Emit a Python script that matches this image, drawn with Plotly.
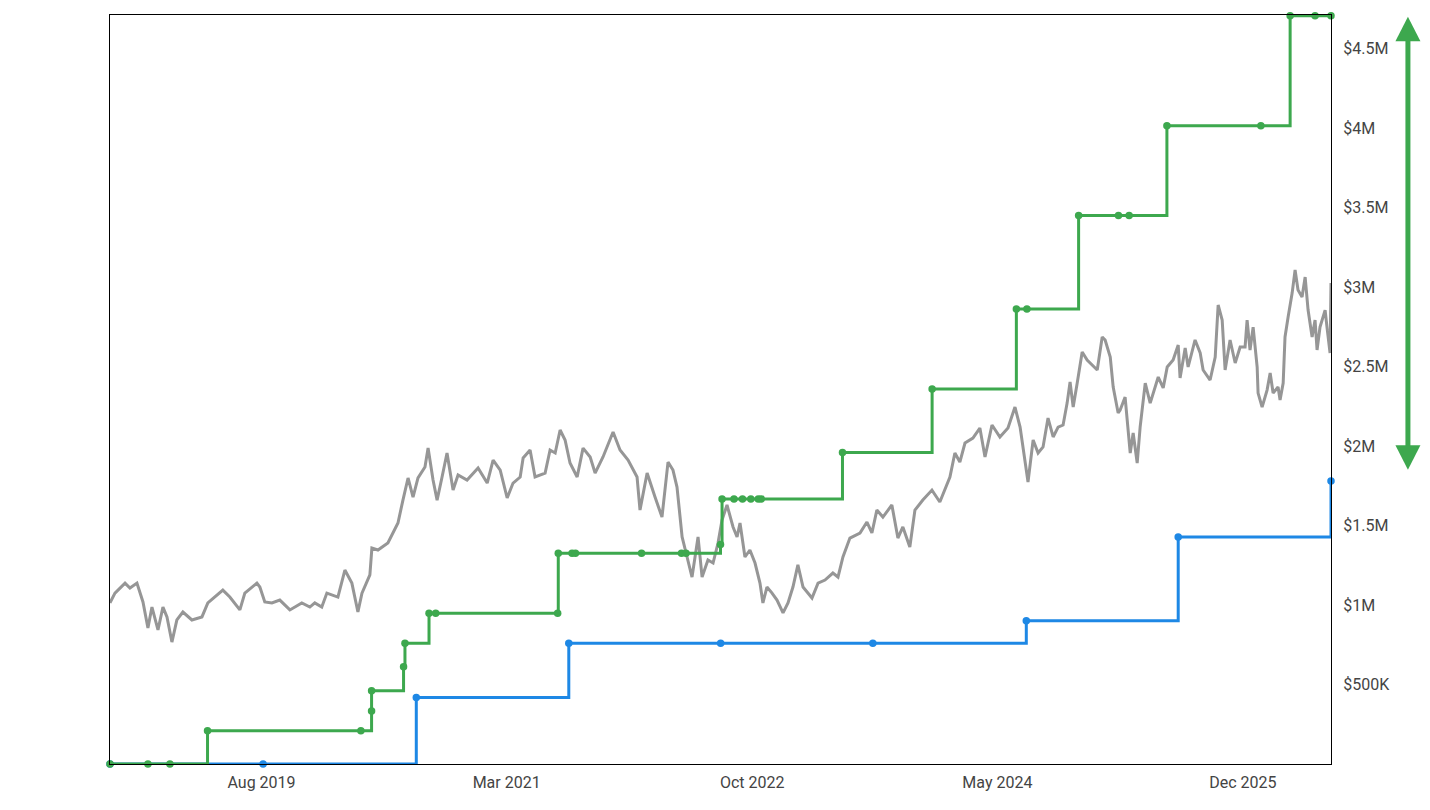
import datetime as dt
import plotly.graph_objects as go

# ---------------- data ----------------
# time as decimal years, values in US$ millions
grey_t = [2018.602, 2018.634, 2018.699, 2018.731, 2018.776, 2018.795, 2018.815, 2018.847, 2018.873, 2018.912,
          2018.944, 2018.970, 2019.002, 2019.034, 2019.073, 2019.131, 2019.196, 2019.234, 2019.331, 2019.376,
          2019.441, 2019.473, 2019.551, 2019.570, 2019.602, 2019.648, 2019.699, 2019.764, 2019.841, 2019.893,
          2019.925, 2019.970, 2020.003, 2020.074, 2020.119, 2020.164, 2020.203, 2020.229, 2020.280, 2020.293,
          2020.332, 2020.396, 2020.461, 2020.493, 2020.526, 2020.558, 2020.590, 2020.635, 2020.655, 2020.687,
          2020.713, 2020.745, 2020.777, 2020.816, 2020.848, 2020.906, 2020.977, 2021.036, 2021.074, 2021.120,
          2021.165, 2021.203, 2021.249, 2021.268, 2021.313, 2021.345, 2021.410, 2021.442, 2021.475, 2021.507,
          2021.539, 2021.571, 2021.617, 2021.655, 2021.701, 2021.733, 2021.784, 2021.849, 2021.894, 2021.946,
          2022.004, 2022.023, 2022.069, 2022.120, 2022.165, 2022.204, 2022.236, 2022.262, 2022.295, 2022.327,
          2022.359, 2022.398, 2022.424, 2022.462, 2022.495, 2022.527, 2022.553, 2022.585, 2022.624, 2022.650,
          2022.669, 2022.701, 2022.733, 2022.766, 2022.798, 2022.817, 2022.843, 2022.876, 2022.908, 2022.947,
          2022.979, 2023.011, 2023.043, 2023.076, 2023.134, 2023.173, 2023.218, 2023.269, 2023.302, 2023.334,
          2023.379, 2023.444, 2023.489, 2023.521, 2023.553, 2023.592, 2023.650, 2023.689, 2023.721, 2023.766,
          2023.799, 2023.850, 2023.909, 2023.960, 2024.025, 2024.057, 2024.089, 2024.122, 2024.173, 2024.218,
          2024.251, 2024.296, 2024.347, 2024.399, 2024.444, 2024.477, 2024.528, 2024.561, 2024.593, 2024.625,
          2024.657, 2024.690, 2024.722, 2024.754, 2024.780, 2024.799, 2024.819, 2024.845, 2024.877, 2024.909,
          2024.941, 2024.974, 2025.006, 2025.025, 2025.058, 2025.077, 2025.109, 2025.122, 2025.154, 2025.187,
          2025.206, 2025.232, 2025.251, 2025.284, 2025.316, 2025.335, 2025.368, 2025.400, 2025.426, 2025.464,
          2025.497, 2025.509, 2025.542, 2025.561, 2025.606, 2025.639, 2025.658, 2025.703, 2025.736, 2025.755,
          2025.781, 2025.800, 2025.832, 2025.865, 2025.897, 2025.929, 2025.942, 2025.961, 2025.981, 2026.007,
          2026.013, 2026.039, 2026.071, 2026.091, 2026.110, 2026.142, 2026.155, 2026.175, 2026.187, 2026.207,
          2026.233, 2026.252, 2026.271, 2026.297, 2026.317, 2026.336, 2026.362, 2026.381, 2026.394, 2026.413,
          2026.446, 2026.458, 2026.478, 2026.484]
grey_v = [1.013, 1.075, 1.138, 1.107, 1.138, 1.075, 1.019, 0.855, 0.987, 0.843,
          0.987, 0.925, 0.767, 0.906, 0.956, 0.906, 0.925, 1.013, 1.094, 1.050,
          0.969, 1.075, 1.138, 1.113, 1.019, 1.013, 1.031, 0.969, 1.013, 0.987,
          1.013, 0.987, 1.075, 1.050, 1.220, 1.138, 0.956, 1.075, 1.189, 1.358,
          1.346, 1.390, 1.516, 1.660, 1.799, 1.679, 1.799, 1.868, 1.987, 1.786,
          1.660, 1.805, 1.956, 1.723, 1.818, 1.786, 1.862, 1.767, 1.912, 1.849,
          1.673, 1.767, 1.805, 1.925, 1.975, 1.805, 1.830, 1.975, 1.956, 2.101,
          2.038, 1.893, 1.805, 1.987, 1.931, 1.830, 1.931, 2.088, 1.975, 1.912,
          1.805, 1.597, 1.830, 1.679, 1.553, 1.899, 1.849, 1.742, 1.428, 1.302,
          1.176, 1.428, 1.176, 1.283, 1.264, 1.390, 1.535, 1.629, 1.491, 1.428,
          1.516, 1.302, 1.346, 1.264, 1.138, 1.013, 1.113, 1.075, 1.031, 0.950,
          1.013, 1.113, 1.252, 1.113, 1.044, 1.138, 1.157, 1.201, 1.176, 1.302,
          1.421, 1.453, 1.522, 1.453, 1.597, 1.553, 1.629, 1.421, 1.491, 1.365,
          1.597, 1.660, 1.723, 1.648, 1.805, 1.956, 1.899, 2.019, 2.050, 2.113,
          1.931, 2.132, 2.057, 2.113, 2.245, 2.119, 1.774, 2.038, 1.956, 1.994,
          2.176, 2.057, 2.119, 2.132, 2.270, 2.403, 2.245, 2.396, 2.591, 2.541,
          2.509, 2.478, 2.686, 2.667, 2.560, 2.371, 2.208, 2.226, 2.308, 1.956,
          2.082, 1.893, 2.119, 2.396, 2.270, 2.333, 2.434, 2.365, 2.497, 2.541,
          2.635, 2.428, 2.616, 2.497, 2.667, 2.585, 2.478, 2.415, 2.560, 2.887,
          2.792, 2.478, 2.667, 2.522, 2.623, 2.623, 2.792, 2.604, 2.748, 2.497,
          2.333, 2.245, 2.352, 2.459, 2.333, 2.371, 2.289, 2.396, 2.686, 2.811,
          2.962, 3.107, 2.981, 2.937, 3.063, 2.855, 2.686, 2.792, 2.604, 2.748,
          2.855, 2.748, 2.585, 3.025]

green_t = [2018.602, 2018.847, 2018.989, 2019.232, 2020.222, 2020.291, 2020.291, 2020.497, 2020.506, 2020.661,
           2020.704, 2021.491, 2021.495, 2021.584, 2021.606, 2022.033, 2022.291, 2022.320, 2022.543, 2022.553,
           2022.630, 2022.685, 2022.739, 2022.787, 2022.806, 2023.331, 2023.910, 2024.453, 2024.521, 2024.854,
           2025.111, 2025.180, 2025.424, 2026.031, 2026.220, 2026.381, 2026.484]
green_v = [0.0, 0.0, 0.0, 0.209, 0.209, 0.333, 0.461, 0.612, 0.759, 0.948,
           0.948, 0.948, 1.325, 1.325, 1.325, 1.325, 1.325, 1.325, 1.380, 1.667,
           1.667, 1.667, 1.667, 1.667, 1.667, 1.960, 2.358, 2.862, 2.862, 3.450,
           3.450, 3.450, 4.014, 4.014, 4.706, 4.706, 4.706]

blue_t = [2018.602, 2019.591, 2020.579, 2021.563, 2022.544, 2023.527, 2024.517, 2025.497, 2026.484]
blue_v = [0.0, 0.0, 0.419, 0.759, 0.759, 0.759, 0.901, 1.428, 1.780]

x_start, x_end = 2018.602, 2026.484
y_max = 4.711

x_tick_dates = ["2019-08-01", "2021-03-01", "2022-10-01", "2024-05-01", "2025-12-01"]
x_tick_text = ["Aug 2019", "Mar 2021", "Oct 2022", "May 2024", "Dec 2025"]
y_tick_vals = [0.5, 1, 1.5, 2, 2.5, 3, 3.5, 4, 4.5]
y_tick_text = ["$500K", "$1M", "$1.5M", "$2M", "$2.5M", "$3M", "$3.5M", "$4M", "$4.5M"]

arrow_top_v, arrow_bottom_v = 4.70, 1.85  # $M, ends of the gap arrow

# ---------------- helpers ----------------
def to_date(t):
    y = int(t)
    a = dt.datetime(y, 1, 1)
    b = dt.datetime(y + 1, 1, 1)
    return a + (b - a) * (t - y)

M = 1e6
GREY = "#969696"
GREEN = "#3DA84E"
BLUE = "#1E88E5"

fig = go.Figure()
fig.add_trace(go.Scatter(
    x=[to_date(t) for t in grey_t], y=[v * M for v in grey_v],
    mode="lines", line=dict(color=GREY, width=3), hoverinfo="skip", showlegend=False))
fig.add_trace(go.Scatter(
    x=[to_date(t) for t in blue_t], y=[v * M for v in blue_v],
    mode="lines+markers", line=dict(color=BLUE, width=3, shape="hv"),
    marker=dict(color=BLUE, size=7.5), cliponaxis=False, showlegend=False))
fig.add_trace(go.Scatter(
    x=[to_date(t) for t in green_t], y=[v * M for v in green_v],
    mode="lines+markers", line=dict(color=GREEN, width=3, shape="hv"),
    marker=dict(color=GREEN, size=7.5), cliponaxis=False, showlegend=False))

# gap arrow on the right (paper x, paper y)
ax = 1.063
half_w = 12.5 / 1221
head_h = 24.5 / 749
yt = arrow_top_v / y_max
yb = arrow_bottom_v / y_max
shapes = [
    dict(type="line", xref="paper", yref="paper", x0=ax, x1=ax, y0=yb + head_h * 0.6, y1=yt - head_h * 0.6,
         line=dict(color=GREEN, width=5)),
    dict(type="path", xref="paper", yref="paper",
         path=f"M {ax},{yt} L {ax - half_w},{yt - head_h} L {ax + half_w},{yt - head_h} Z",
         fillcolor=GREEN, line=dict(width=0)),
    dict(type="path", xref="paper", yref="paper",
         path=f"M {ax},{yb} L {ax - half_w},{yb + head_h} L {ax + half_w},{yb + head_h} Z",
         fillcolor=GREEN, line=dict(width=0)),
]

# page body has an 8px margin, so the figure is sized/offset to land the plot box where it is in the reference
fig.update_layout(
    width=1414, height=794,
    margin=dict(l=102, r=91, t=7, b=38),
    paper_bgcolor="white", plot_bgcolor="white",
    font=dict(family="Roboto, sans-serif", size=16, color="#444444"),
    shapes=shapes,
    xaxis=dict(
        type="date", range=[to_date(x_start), to_date(x_end)],
        tickvals=x_tick_dates, ticktext=x_tick_text,
        showgrid=False, zeroline=False, showline=True, linecolor="black", linewidth=1, mirror=True,
        ticks="", ticklabelstandoff=4,
    ),
    yaxis=dict(
        range=[0, y_max * M], side="right",
        tickvals=[v * M for v in y_tick_vals], ticktext=y_tick_text,
        showgrid=False, zeroline=False, showline=True, linecolor="black", linewidth=1, mirror=True,
        ticks="", ticklabelstandoff=8,
    ),
)

fig.write_html("out.html")
